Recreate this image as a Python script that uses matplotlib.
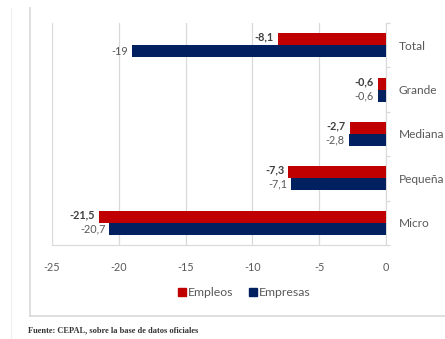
import numpy as np
import matplotlib.pyplot as plt
from matplotlib.lines import Line2D

categorias = ["Total", "Grande", "Mediana", "Pequeña", "Micro"]
empleos    = [-8.1, -0.6, -2.7, -7.3, -21.5]
empresas   = [-19.0, -0.6, -2.8, -7.1, -20.7]
xticks     = [-25, -20, -15, -10, -5, 0]

ROJO = "#C00000"
AZUL = "#002060"
GRIS = "#595959"
LINEA = "#D9D9D9"

plt.rcParams['font.family'] = ['Lato', 'DejaVu Sans']

W, H = 445, 339
fig = plt.figure(figsize=(W/100, H/100), dpi=100)

def fx(px): return px / W
def fy(py): return 1 - py / H

# caja del grafico y borde de pagina
fig.add_artist(Line2D([fx(11), fx(11)], [fy(8), 0], color="#EEEEEE", lw=0.8))
fig.add_artist(Line2D([fx(30), fx(30)], [fy(8), fy(316)], color=LINEA, lw=1.2))
fig.add_artist(Line2D([fx(30), 1], [fy(316), fy(316)], color=LINEA, lw=1.2))

ax = fig.add_axes([fx(52), fy(245), fx(386) - fx(52), fy(23) - fy(245)])

y = np.arange(len(categorias))
h = 0.27
ax.barh(y - h/2, empleos, height=h, color=ROJO, label="Empleos", zorder=3)
ax.barh(y + h/2, empresas, height=h, color=AZUL, label="Empresas", zorder=3)

def fmt(v):
    s = f"{v:.1f}".replace(".", ",")
    if s.endswith(",0"):
        s = s[:-2]
    return s

for i in range(len(categorias)):
    ax.annotate(fmt(empleos[i]), (empleos[i], y[i] - h/2), xytext=(-3, 1.5),
                textcoords="offset points", ha="right", va="center",
                fontsize=7.8, fontweight="bold", color="#404040")
    ax.annotate(fmt(empresas[i]), (empresas[i], y[i] + h/2), xytext=(-3, 0),
                textcoords="offset points", ha="right", va="center",
                fontsize=7.8, color=GRIS)

ax.set_xlim(-25, 0)
ax.set_ylim(len(categorias) - 0.5, -0.5)
ax.set_xticks(xticks)
ax.set_xticklabels([str(t) for t in xticks])
ax.tick_params(axis="x", length=0, pad=12, labelsize=7.8, labelcolor=GRIS)
ax.grid(axis="x", color=LINEA, lw=0.9, zorder=0)

ax.yaxis.tick_right()
ax.set_yticks(y)
ax.set_yticklabels(categorias)
ax.set_yticks(np.arange(-0.5, len(categorias)), minor=True)
ax.tick_params(axis="y", which="major", length=0, pad=9, labelsize=8.6, labelcolor=GRIS)
ax.tick_params(axis="y", which="minor", length=3, color=LINEA, width=0.9, direction="out")

for s in ["left", "top"]:
    ax.spines[s].set_visible(False)
ax.spines["right"].set_color(LINEA)
ax.spines["bottom"].set_color(LINEA)

handles = [Line2D([], [], marker="s", ls="", color=ROJO, markersize=6),
           Line2D([], [], marker="s", ls="", color=AZUL, markersize=6)]
fig.legend(handles, ["Empleos", "Empresas"], loc="center", bbox_to_anchor=(fx(244), fy(293)),
           ncol=2, frameon=False, fontsize=8.8, labelcolor=GRIS, handletextpad=0.1,
           columnspacing=1.2, handlelength=0.8)

fig.text(fx(28), fy(330), "Fuente: CEPAL, sobre la base de datos oficiales",
         family="Liberation Serif", fontweight="bold", fontsize=6, color="#333333",
         ha="left", va="center")

fig.savefig("out.png", dpi=100)
